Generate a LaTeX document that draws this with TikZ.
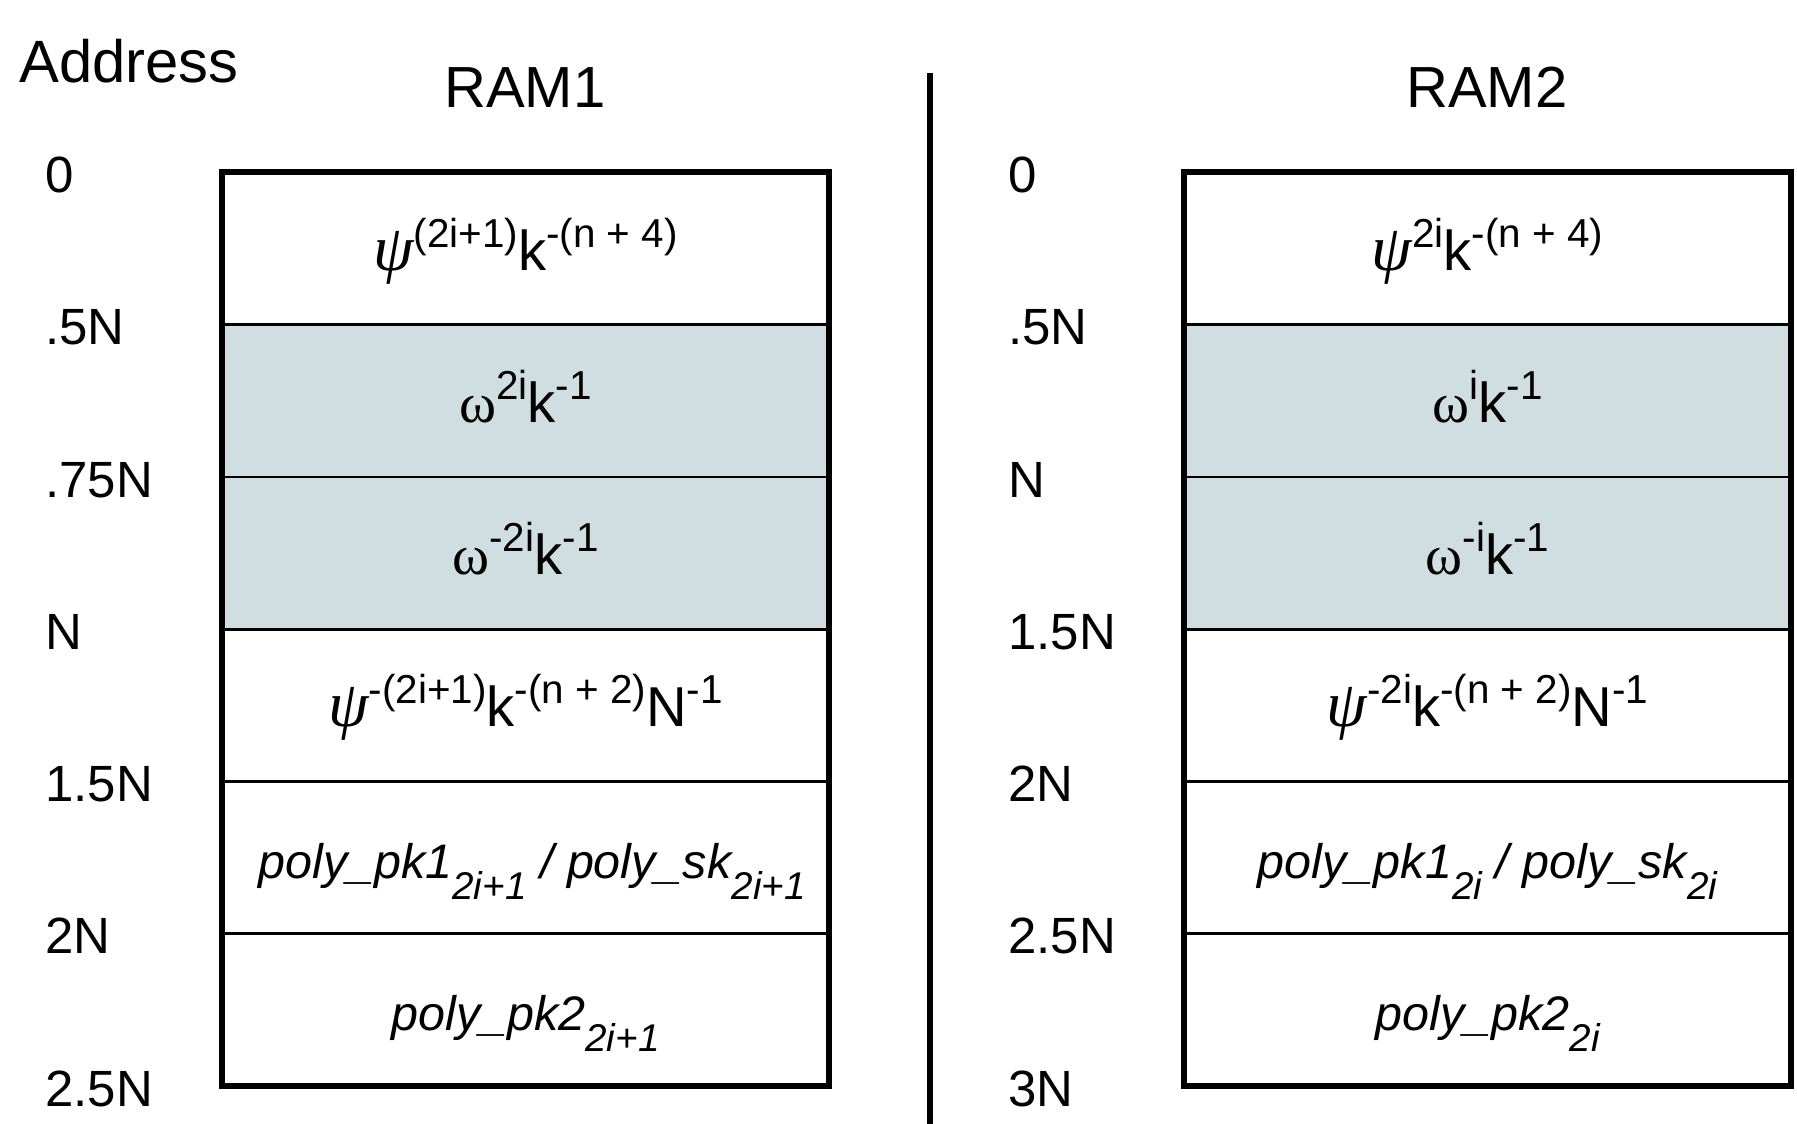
\documentclass[tikz,border=0pt]{standalone}
\usepackage{fontspec}
\setmainfont{Liberation Sans}
\newfontfamily\greekfont{Liberation Serif}
\newcommand{\hsup}[1]{\raisebox{0.8ex}{\fontsize{11.5}{13}\selectfont #1}}
\newcommand{\hsub}[1]{\raisebox{-0.8ex}{\fontsize{11}{13}\selectfont #1}}
\newcommand{\psisym}{{\greekfont\itshape\fontsize{18.5}{20}\selectfont ψ}}
\newcommand{\omegasym}{{\greekfont ω}}
\definecolor{cellblue}{RGB}{208,222,226}
\tikzset{
	addr/.style={anchor=base west, font=\fontsize{14.5}{16}\selectfont},
	ramlabel/.style={anchor=base, font=\fontsize{16.5}{18}\selectfont},
	entry/.style={anchor=base, font=\fontsize{16}{18}\selectfont},
	polyentry/.style={anchor=base, font=\fontsize{13.8}{16}\selectfont\itshape},
	rowline/.style={line width=0.8pt},
	outline/.style={line width=1.7pt},
}

\begin{document}
\begin{tikzpicture}
				\useasboundingbox (0,0) rectangle (17.97,-11.24);
				
				% headings
				\node[ramlabel, anchor=base west, font=\fontsize{17}{19}\selectfont] (addrtitle) at (0.07,-0.83) {Address};
				\node[ramlabel] (ramone) at (5.25,-1.08) {RAM1};
				\node[ramlabel] (ramtwo) at (14.87,-1.08) {RAM2};
				\draw[outline] (9.30,-0.73) -- (9.30,-11.24);
				
				% RAM1
				\fill[cellblue] (2.22,-3.2475) rectangle (8.29,-6.2925);
				\draw[rowline] (2.22,-3.2475) -- (8.29,-3.2475);
				\draw[rowline] (2.22,-4.77) -- (8.29,-4.77);
				\draw[rowline] (2.22,-6.2925) -- (8.29,-6.2925);
				\draw[rowline] (2.22,-7.815) -- (8.29,-7.815);
				\draw[rowline] (2.22,-9.3375) -- (8.29,-9.3375);
				\draw[outline] (2.22,-1.725) rectangle (8.29,-10.86);
				\node[entry] (ma1) at (5.255,-2.71) {\psisym\hsup{(2i+1)}k\hsup{-(n + 4)}};
				\node[entry] (ma2) at (5.255,-4.23) {\omegasym\hsup{2i}k\hsup{-1}};
				\node[entry] (ma3) at (5.255,-5.75) {\omegasym\hsup{-2i}k\hsup{-1}};
				\node[entry] (ma4) at (5.255,-7.27) {\psisym\hsup{-(2i+1)}k\hsup{-(n + 2)}N\hsup{-1}};
				\node[polyentry] (ma5) at (5.32,-8.79) {poly\_pk1\hsub{2i+1} / poly\_sk\hsub{2i+1}};
				\node[polyentry] (ma6) at (5.255,-10.31) {poly\_pk2\hsub{2i+1}};
				\node[addr] (aa0) at (0.33,-1.93) {0};
				\node[addr] (aa1) at (0.33,-3.45) {.5N};
				\node[addr] (aa2) at (0.33,-4.975) {.75N};
				\node[addr] (aa3) at (0.33,-6.50) {N};
				\node[addr] (aa4) at (0.33,-8.02) {1.5N};
				\node[addr] (aa5) at (0.33,-9.54) {2N};
				\node[addr] (aa6) at (0.33,-11.065) {2.5N};
				
				% RAM2
				\fill[cellblue] (11.84,-3.2475) rectangle (17.91,-6.2925);
				\draw[rowline] (11.84,-3.2475) -- (17.91,-3.2475);
				\draw[rowline] (11.84,-4.77) -- (17.91,-4.77);
				\draw[rowline] (11.84,-6.2925) -- (17.91,-6.2925);
				\draw[rowline] (11.84,-7.815) -- (17.91,-7.815);
				\draw[rowline] (11.84,-9.3375) -- (17.91,-9.3375);
				\draw[outline] (11.84,-1.725) rectangle (17.91,-10.86);
				\node[entry] (mb1) at (14.875,-2.71) {\psisym\hsup{2i}k\hsup{-(n + 4)}};
				\node[entry] (mb2) at (14.875,-4.23) {\omegasym\hsup{i}k\hsup{-1}};
				\node[entry] (mb3) at (14.875,-5.75) {\omegasym\hsup{-i}k\hsup{-1}};
				\node[entry] (mb4) at (14.875,-7.27) {\psisym\hsup{-2i}k\hsup{-(n + 2)}N\hsup{-1}};
				\node[polyentry] (mb5) at (14.875,-8.79) {poly\_pk1\hsub{2i} / poly\_sk\hsub{2i}};
				\node[polyentry] (mb6) at (14.875,-10.31) {poly\_pk2\hsub{2i}};
				\node[addr] (ab0) at (9.96,-1.93) {0};
				\node[addr] (ab1) at (9.96,-3.45) {.5N};
				\node[addr] (ab2) at (9.96,-4.975) {N};
				\node[addr] (ab3) at (9.96,-6.50) {1.5N};
				\node[addr] (ab4) at (9.96,-8.02) {2N};
				\node[addr] (ab5) at (9.96,-9.54) {2.5N};
				\node[addr] (ab6) at (9.96,-11.065) {3N};
			\end{tikzpicture}
\end{document}
